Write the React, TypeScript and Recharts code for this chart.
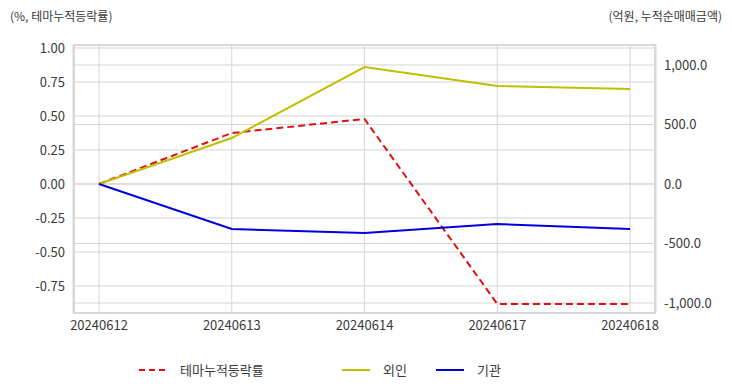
import React from 'react';
import { LineChart, Line, XAxis, YAxis, CartesianGrid } from 'recharts';

const dates = ['20240612', '20240613', '20240614', '20240617', '20240618'];
const themeReturn = [0, 0.375, 0.478, -0.882, -0.882];
const foreign = [0, 386, 983, 823, 798];
const institution = [0, -378, -412, -336, -378];

const leftTicks = [-0.75, -0.5, -0.25, 0, 0.25, 0.5, 0.75, 1.0];
const rightTicks = [-1000, -500, 0, 500, 1000];

const FONT = '"Noto Sans CJK KR", "Noto Sans", sans-serif';
const TEXT = '#3a3a3a';
const RED = '#e01010';
const OLIVE = '#c0bf00';
const BLUE = '#0000dd';

const data = dates.map((d, i) => ({
  date: d,
  theme: themeReturn[i],
  foreign: foreign[i],
  institution: institution[i],
}));

const fmtRight = (v: number) =>
  v.toLocaleString('en-US', { minimumFractionDigits: 1, maximumFractionDigits: 1 });

const legendItems = [
  { label: '테마누적등락률', color: RED, dash: '6 4', left: 139 },
  { label: '외인', color: OLIVE, dash: undefined, left: 342 },
  { label: '기관', color: BLUE, dash: undefined, left: 436 },
];

export default function App() {
  return (
    <div
      style={{
        position: 'fixed',
        left: 0,
        top: 0,
        width: 732,
        height: 392,
        background: '#fff',
        fontFamily: FONT,
        color: TEXT,
      }}
    >
      <div style={{ position: 'absolute', left: 10, top: 7, fontSize: 12 }}>(%, 테마누적등락률)</div>
      <div style={{ position: 'absolute', right: 10, top: 7, fontSize: 12 }}>(억원, 누적순매매금액)</div>

      <LineChart width={732} height={392} data={data} margin={{ top: 45, right: 0, left: 0, bottom: 49 }}>
        <CartesianGrid yAxisId="left" stroke="#d4d4d4" vertical={true} horizontal={true} />
        <CartesianGrid yAxisId="right" stroke="#d4d4d4" vertical={false} horizontal={true} />
        <XAxis
          dataKey="date"
          height={30}
          padding={{ left: 26, right: 26 }}
          axisLine={false}
          tickLine={false}
          interval={0}
          tick={{ fill: TEXT, fontSize: 13, fontFamily: FONT }}
        />
        <YAxis
          yAxisId="left"
          width={73}
          domain={[-0.949, 1.022]}
          ticks={leftTicks}
          axisLine={false}
          tickLine={false}
          tickFormatter={(v: number) => v.toFixed(2)}
          tick={{ fill: TEXT, fontSize: 13, fontFamily: FONT }}
        />
        <YAxis
          yAxisId="right"
          orientation="right"
          width={76}
          domain={[-1084, 1168]}
          ticks={rightTicks}
          axisLine={false}
          tickLine={false}
          tickFormatter={fmtRight}
          tick={{ fill: TEXT, fontSize: 13, fontFamily: FONT }}
        />
        <Line
          yAxisId="left"
          dataKey="theme"
          stroke={RED}
          strokeWidth={2}
          strokeDasharray="7 4"
          dot={false}
          isAnimationActive={false}
        />
        <Line
          yAxisId="right"
          dataKey="foreign"
          stroke={OLIVE}
          strokeWidth={2}
          dot={false}
          isAnimationActive={false}
        />
        <Line
          yAxisId="right"
          dataKey="institution"
          stroke={BLUE}
          strokeWidth={2}
          dot={false}
          isAnimationActive={false}
        />
      </LineChart>

      <div
        style={{
          position: 'absolute',
          left: 73,
          top: 44,
          width: 579,
          height: 266,
          border: '2px solid #d8d8d8',
          pointerEvents: 'none',
        }}
      />

      {legendItems.map((it) => (
        <div
          key={it.label}
          style={{ position: 'absolute', left: it.left, top: 360, display: 'flex', alignItems: 'center', fontSize: 13 }}
        >
          <svg width={28} height={18} style={{ marginRight: 13 }}>
            <line x1={0} y1={9} x2={28} y2={9} stroke={it.color} strokeWidth={2} strokeDasharray={it.dash} />
          </svg>
          <span>{it.label}</span>
        </div>
      ))}
    </div>
  );
}
